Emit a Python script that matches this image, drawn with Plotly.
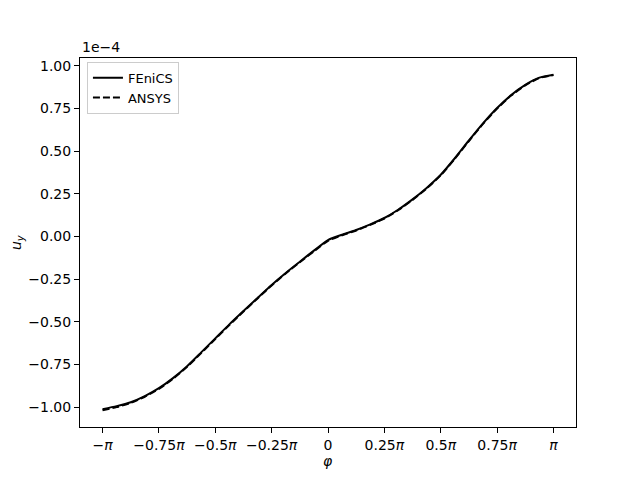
import numpy as np
import plotly.graph_objects as go

# phi in units of pi (steps of pi/16)
phi_frac = [k / 16 for k in range(-16, 17)]
# u_y in units of 1e-4
fenics = [-1.012, -0.994, -0.971, -0.935, -0.889, -0.830, -0.760, -0.679, -0.597,
          -0.515, -0.437, -0.360, -0.284, -0.214, -0.148, -0.083, -0.021,
          0.010, 0.038, 0.071, 0.108, 0.158, 0.217, 0.284, 0.361,
          0.458, 0.562, 0.662, 0.752, 0.828, 0.888, 0.930, 0.947]
ansys = [-1.018, -1.000, -0.975, -0.939, -0.893, -0.834, -0.764, -0.683, -0.601,
         -0.519, -0.440, -0.363, -0.287, -0.217, -0.151, -0.087, -0.026,
         0.007, 0.035, 0.068, 0.105, 0.155, 0.214, 0.281, 0.358,
         0.455, 0.559, 0.659, 0.749, 0.825, 0.885, 0.928, 0.945]

xtick_frac = [-1.0, -0.75, -0.5, -0.25, 0.0, 0.25, 0.5, 0.75, 1.0]
xtick_text = ["−<i>π</i>", "−0.75<i>π</i>", "−0.5<i>π</i>", "−0.25<i>π</i>", "0",
              "0.25<i>π</i>", "0.5<i>π</i>", "0.75<i>π</i>", "<i>π</i>"]
ytick_vals = [-1.0, -0.75, -0.5, -0.25, 0.0, 0.25, 0.5, 0.75, 1.0]

phi = [f * np.pi for f in phi_frac]
xticks = [f * np.pi for f in xtick_frac]
ytext = [f"{v:.2f}".replace("-", "−") for v in ytick_vals]

fig = go.Figure()
fig.add_trace(go.Scatter(x=phi, y=fenics, mode="lines", name="FEniCS",
                         line=dict(color="black", width=2, shape="spline", smoothing=0.6)))
fig.add_trace(go.Scatter(x=phi, y=ansys, mode="lines", name="ANSYS",
                         line=dict(color="black", width=2, dash="7px,3px",
                                   shape="spline", smoothing=0.6)))

allx = phi
xr = (max(allx) - min(allx)) * 0.05
ally = fenics + ansys
yr = (max(ally) - min(ally)) * 0.05

font = dict(family="DejaVu Sans", size=14, color="black")
# the page body adds an 8px offset; margins compensate so the axes sit at 80..576 x 58..427
fig.update_layout(
    width=640, height=480,
    margin=dict(l=72, r=72, t=50, b=61),
    paper_bgcolor="white", plot_bgcolor="white",
    font=font,
    showlegend=True,
    legend=dict(x=0.014, y=0.99, xanchor="left", yanchor="top",
                bgcolor="white", bordercolor="#cccccc", borderwidth=1,
                font=dict(family="DejaVu Sans", size=13, color="black"),
                tracegroupgap=0, itemwidth=30),
    xaxis=dict(range=[min(allx) - xr, max(allx) + xr], tickvals=xticks, ticktext=xtick_text,
               showgrid=False, zeroline=False, showline=True, linecolor="black", linewidth=1,
               mirror=True, ticks="outside", ticklen=5, tickcolor="black", automargin=False),
    yaxis=dict(range=[min(ally) - yr, max(ally) + yr], tickvals=ytick_vals, ticktext=ytext,
               showgrid=False, zeroline=False, showline=True, linecolor="black", linewidth=1,
               mirror=True, ticks="outside", ticklen=5, tickcolor="black", automargin=False),
    annotations=[
        dict(text="1e−4", xref="paper", yref="paper", x=0, y=1,
             xanchor="left", yanchor="bottom", showarrow=False, yshift=1, font=font),
        dict(text="<i>φ</i>", xref="paper", yref="paper", x=0.5, y=-0.092,
             xanchor="center", yanchor="middle", showarrow=False, font=font),
        dict(text="<i>u</i><sub><i>y</i></sub>", xref="paper", yref="paper", x=-0.128, y=0.5,
             xanchor="center", yanchor="middle", showarrow=False, textangle=-90, font=font),
    ],
)
fig.write_html("out.html")
